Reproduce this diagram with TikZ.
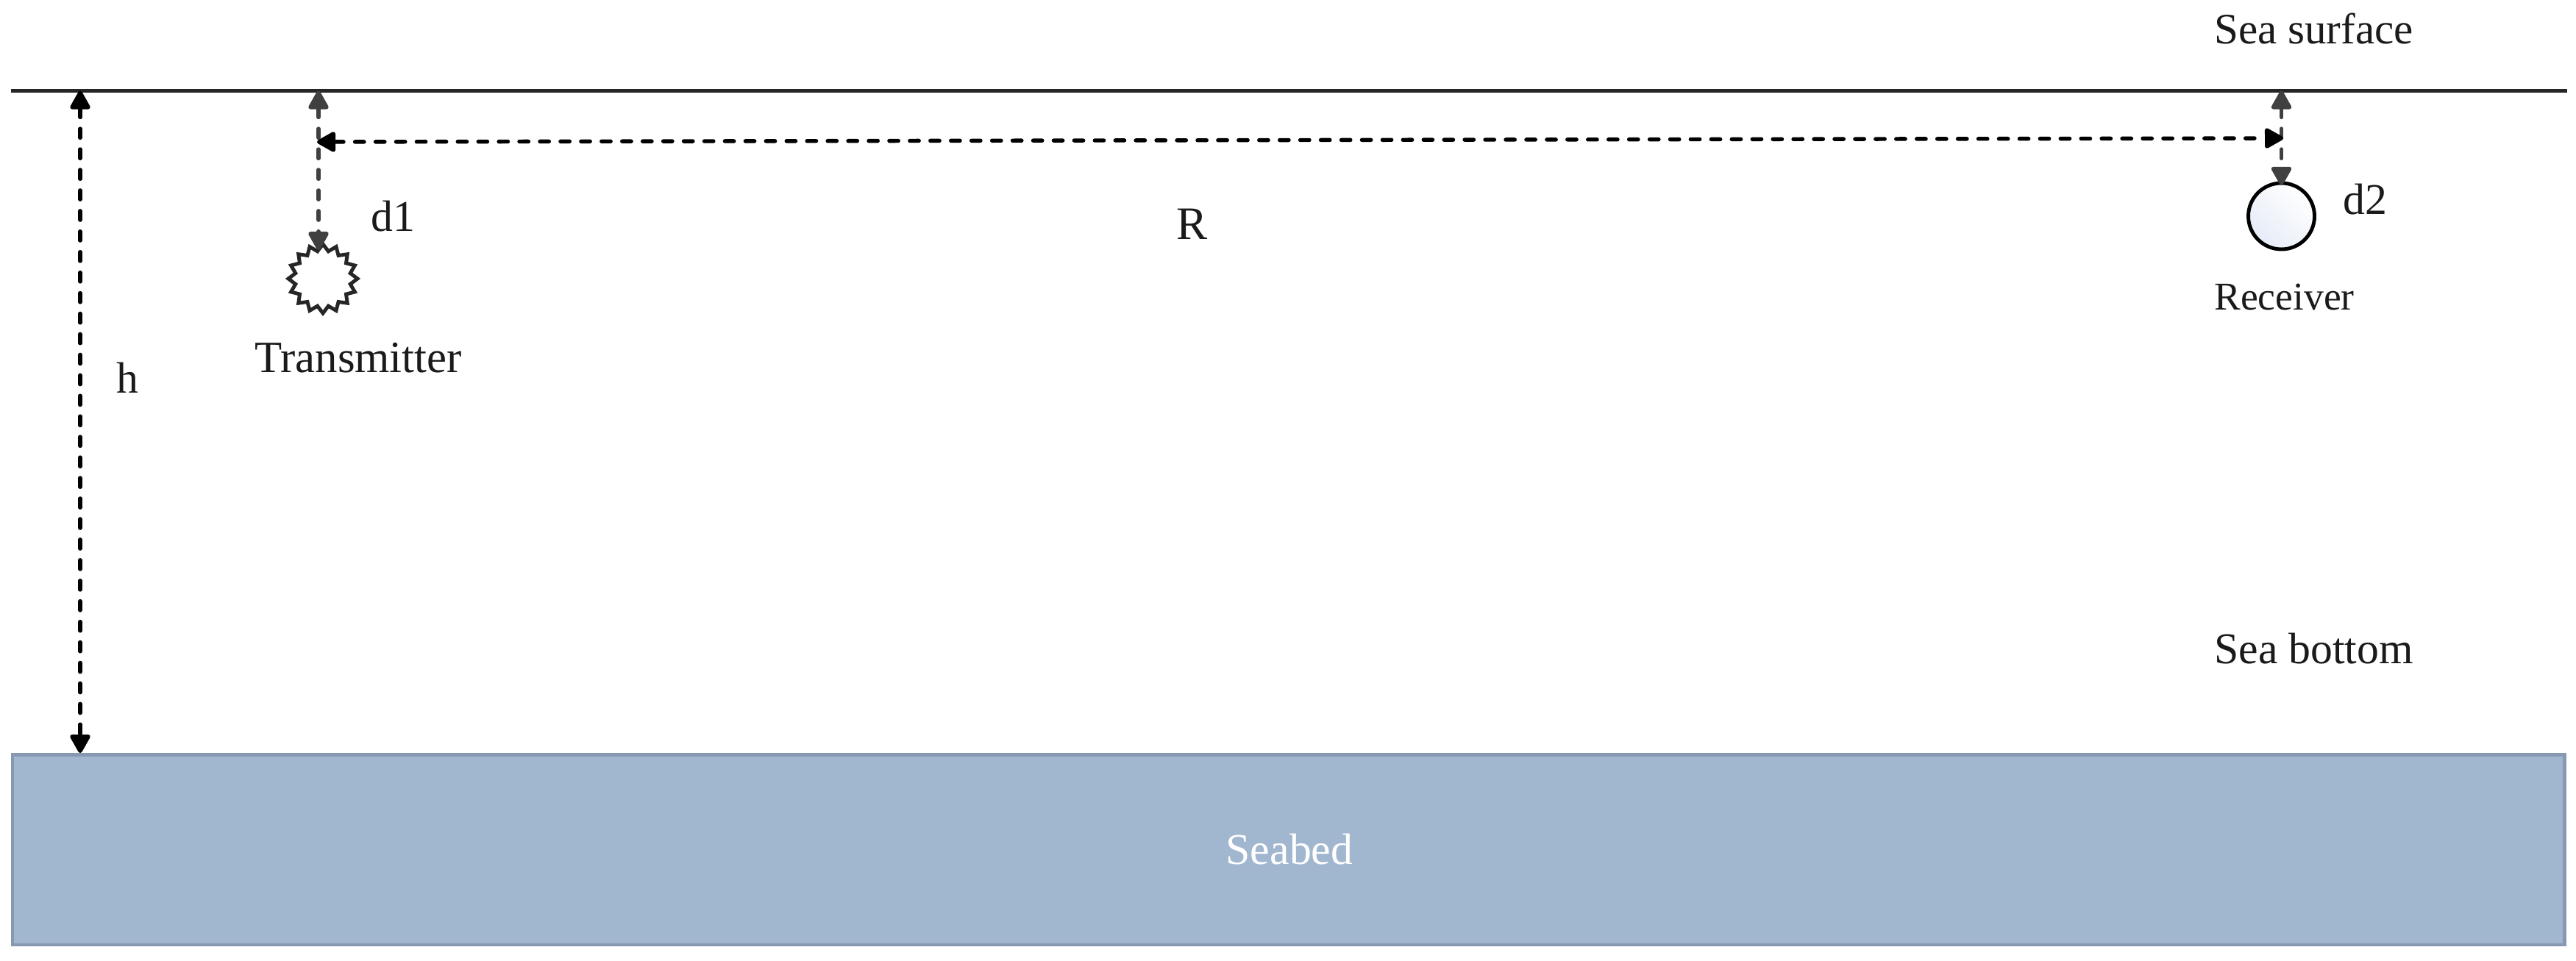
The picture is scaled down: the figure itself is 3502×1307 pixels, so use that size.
\documentclass[tikz,border=0pt]{standalone}
\usepackage{fontspec}
\setmainfont{Liberation Serif}
\usetikzlibrary{arrows.meta,shapes.geometric}
\definecolor{seabedfill}{HTML}{A1B6CF}
\definecolor{seabedline}{HTML}{8699B0}
\definecolor{surfaceline}{HTML}{262626}
\definecolor{offsetarrow}{HTML}{404040}
\definecolor{textgray}{HTML}{1A1A1A}
\definecolor{receiverfill}{HTML}{E6ECF7}
\tikzset{
  labeltext/.style={anchor=base west,inner sep=0pt,text=textgray,font=\fontsize{34}{40}\selectfont},
  smalltext/.style={labeltext,font=\fontsize{30.5}{36}\selectfont},
  dimarrow/.style={line width=3.1pt,line cap=round,dash pattern=on 7pt off 8.9pt,
    {Triangle[length=16pt,width=17pt,round]}-{Triangle[length=16pt,width=17pt,round]}},
  seabedbox/.style={draw=seabedline,fill=seabedfill,line width=2.8pt,inner sep=0pt},
}
\begin{document}
\begin{tikzpicture}[x=0.02cm,y=-0.02cm]
\useasboundingbox (0,0) rectangle (3502,1307);

% Sea surface and seabed
\draw[surfaceline,line width=2.8pt] (15,123.5) coordinate (surfleft) -- (3490,123.5) coordinate (surfright);
\node[seabedbox,minimum width=3469*0.02cm,minimum height=258.5*0.02cm] (seabed) at (1751.5,1155.75) {};

% Transmitter and receiver
\node[draw=surfaceline,star,star points=16,star point ratio=1.24,line width=2.8pt,
  minimum size=94*0.02cm,inner sep=0pt,fill=white] (tx) at (439,379) {};
\node[draw=black,circle,line width=2.8pt,minimum size=90*0.02cm,inner sep=0pt,
  left color=white,right color=receiverfill,shading angle=-45] (rx) at (3101.5,294) {};

% Points on the sea surface
\coordinate (htop) at (109,123.5);
\coordinate (d1top) at (433,123.5);
\coordinate (d2top) at (3101.5,123.5);
\coordinate (rleft) at (431,193);
\coordinate (rright) at (3104,188);

% Distances
\draw[dimarrow,black] (htop) -- (htop |- seabed.north);
\draw[dimarrow,offsetarrow,shorten >=-7pt] (d1top) -- (d1top |- tx.north);
\draw[dimarrow,offsetarrow,shorten >=-3pt] (d2top) -- (rx.north);
\draw[dimarrow,black] (rleft) -- (rright);

% Labels
\node[labeltext,font=\fontsize{33.6}{40}\selectfont] (surfacelabel) at (3010,60) {Sea surface};
\node[labeltext] (bottomlabel) at (3010,902) {Sea bottom};
\node[labeltext] (d1label) at (504,315) {d1};
\node[labeltext] (d2label) at (3185,292) {d2};
\node[labeltext] (hlabel) at (158,534) {h};
\node[labeltext,font=\fontsize{36}{40}\selectfont] (rlabel) at (1599,326) {R};
\node[labeltext,font=\fontsize{34.6}{40}\selectfont] (txlabel) at (346,506) {Transmitter};
\node[smalltext] (rxlabel) at (3010,421) {Receiver};
\node[labeltext,text=white,anchor=base] (seabedlabel) at (1753,1175) {Seabed};
\end{tikzpicture}
\end{document}
